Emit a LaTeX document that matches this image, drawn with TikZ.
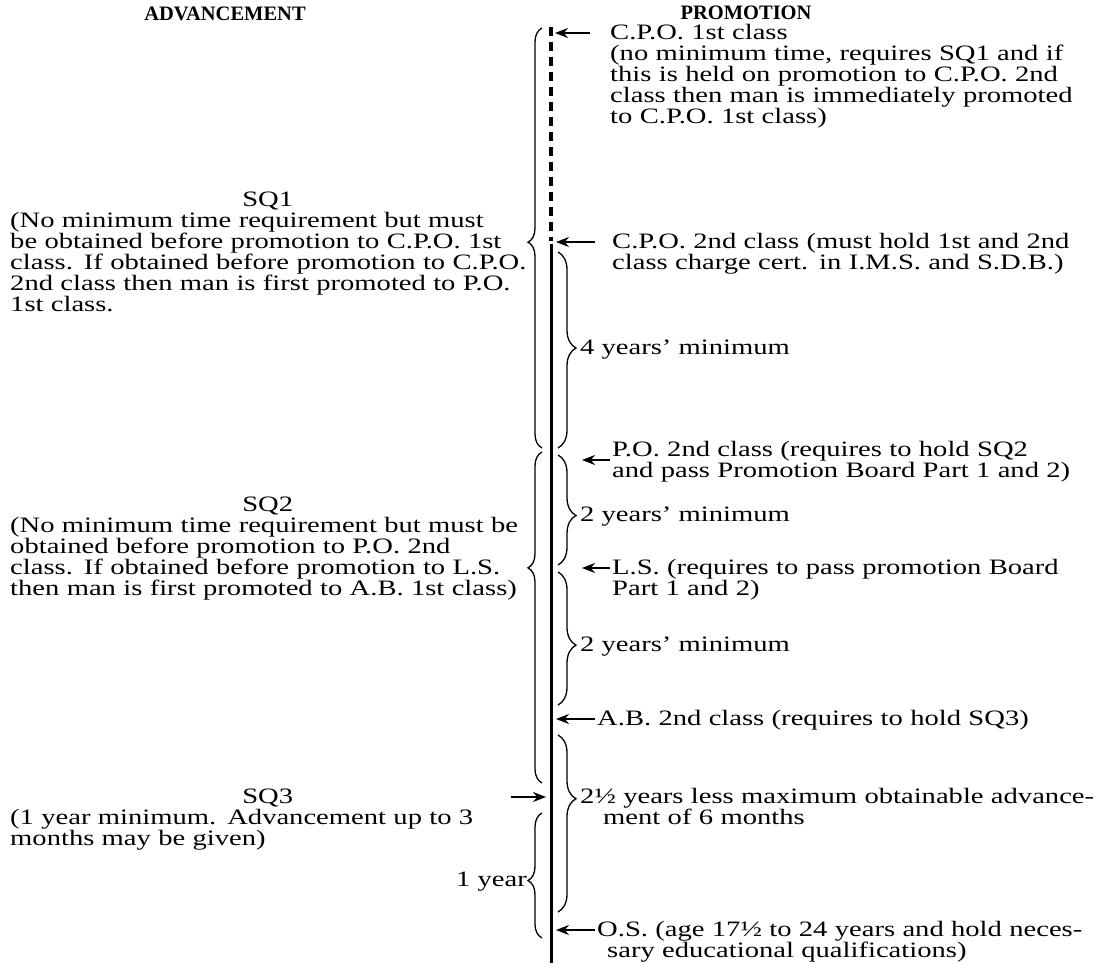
\documentclass[tikz,border=0pt]{standalone}
\usepackage{fontspec}
\setmainfont{Liberation Serif}[FakeStretch=1.3]
\newfontfamily\headfont{Liberation Serif}
\usetikzlibrary{arrows.meta,decorations.pathreplacing}

\newcommand{\jl}[2][\linewidth]{\makebox[#1][s]{#2}}

\begin{document}
\begin{tikzpicture}[
    x=1pt, y=-1pt,
    every node/.style={font=\fontsize{22}{21}\selectfont, inner sep=0pt},
    txt/.style={anchor=base west, text width=#1, align=left},
    head/.style={font=\headfont\fontsize{20.5}{24}\selectfont\bfseries, anchor=base},
    arr/.style={-{Stealth[length=13pt,width=10pt]}, line width=1.8pt},
    bracel/.style={decorate, decoration={brace, amplitude=14pt, aspect=#1}, line width=1.3pt},
    bracer/.style={decorate, decoration={brace, amplitude=18pt, aspect=#1}, line width=1.3pt}
  ]
  \useasboundingbox (0,0) rectangle (1096,964);

  % Headings
  \node[head] (adv) at (225,20) {ADVANCEMENT};
  \node[head] (prom) at (746,19) {PROMOTION};

  % Time line
  \draw[line width=3.2pt, dash pattern=on 9pt off 6pt] (551,27) -- (551,241);
  \draw[line width=3pt] (551,244) -- (551,963);
  \coordinate (tcpo1) at (555,33);
  \coordinate (tcpo2) at (556,242);
  \coordinate (tpo2) at (582,460);
  \coordinate (tls) at (582,568);
  \coordinate (tab) at (556,719);
  \coordinate (tos) at (556,930);
  \coordinate (tsq3) at (546,797);
  \coordinate (sq3tail) at (511,797);

  % Advancement
  \node[txt=515pt] (sq1) at (10,206) {\makebox[\linewidth]{SQ1}\\
    \jl{(No minimum time requirement but must}\\
    \jl{be obtained before promotion to C.P.O. 1st}\\
    \jl{class. If obtained before promotion to C.P.O.}\\
    \jl{2nd class then man is first promoted to P.O.}\\
    1st class.};
  \node[txt=515pt] (sq2) at (10,511) {\makebox[\linewidth]{SQ2}\\
    \jl{(No minimum time requirement but must be}\\
    \jl{obtained before promotion to P.O. 2nd}\\
    \jl{class. If obtained before promotion to L.S.}\\
    then man is first promoted to A.B. 1st class)};
  \node[txt=515pt] (sq3) at (10,803) {\makebox[\linewidth]{SQ3}\\
    \jl{(1 year minimum. Advancement up to 3}\\
    months may be given)};
  \node[anchor=base east] (oneyr) at (527,886) {1 year};

  \draw[bracel=0.49] (542,448) -- (542,28);
  \draw[bracel=0.65] (542,783) -- (542,452);
  \draw[bracel=0.46] (542,938) -- (542,813);
  \draw[arr] (sq3tail) -- (tsq3);

  % Promotion
  \node[txt=475pt] (cpo1) at (610,39) {C.P.O. 1st class\\
    \jl{(no minimum time, requires SQ1 and if}\\
    \jl{this is held on promotion to C.P.O. 2nd}\\
    \jl{class then man is immediately promoted}\\
    to C.P.O. 1st class)};
  \node[txt=473pt] (cpo2) at (612,248) {\jl{C.P.O. 2nd class (must hold 1st and 2nd}\\
    class charge cert. in I.M.S. and S.D.B.)};
  \node[txt=473pt] (po2) at (612,456) {\jl{P.O. 2nd class (requires to hold SQ2}\\
    and pass Promotion Board Part 1 and 2)};
  \node[txt=473pt] (ls) at (612,574) {\jl{L.S. (requires to pass promotion Board}\\
    Part 1 and 2)};
  \node[txt=488pt] (ab) at (597,725) {A.B. 2nd class (requires to hold SQ3)};
  \node[txt=505pt] (half) at (580,803) {\jl{2½ years less maximum obtainable advance-}\\
    \hspace*{23pt}ment of 6 months};
  \node[txt=488pt] (os) at (597,936) {\jl{O.S. (age 17½ to 24 years and hold neces-}\\
    \hspace*{10pt}sary educational qualifications)};

  \node[anchor=base west] (four) at (580,354) {4 years’ minimum};
  \node[anchor=base west] (twoa) at (580,521) {2 years’ minimum};
  \node[anchor=base west] (twob) at (580,651) {2 years’ minimum};

  \draw[bracer=0.49] (558,252) -- (558,448);
  \draw[bracer=0.55] (558,455) -- (558,565);
  \draw[bracer=0.55] (558,572) -- (558,705);
  \draw[bracer=0.36] (558,735) -- (558,912);

  % Arrows
  \draw[arr] ([xshift=-20pt,yshift=6pt]cpo1.base west) -- (tcpo1);
  \draw[arr] ([xshift=-17pt,yshift=6pt]cpo2.base west) -- (tcpo2);
  \draw[arr] ([xshift=-2pt,yshift=-4pt]po2.base west) -- (tpo2);
  \draw[arr] ([xshift=-2pt,yshift=6pt]ls.base west) -- (tls);
  \draw[arr] ([xshift=-2pt,yshift=6pt]ab.base west) -- (tab);
  \draw[arr] ([xshift=-2pt,yshift=6pt]os.base west) -- (tos);
\end{tikzpicture}
\end{document}
